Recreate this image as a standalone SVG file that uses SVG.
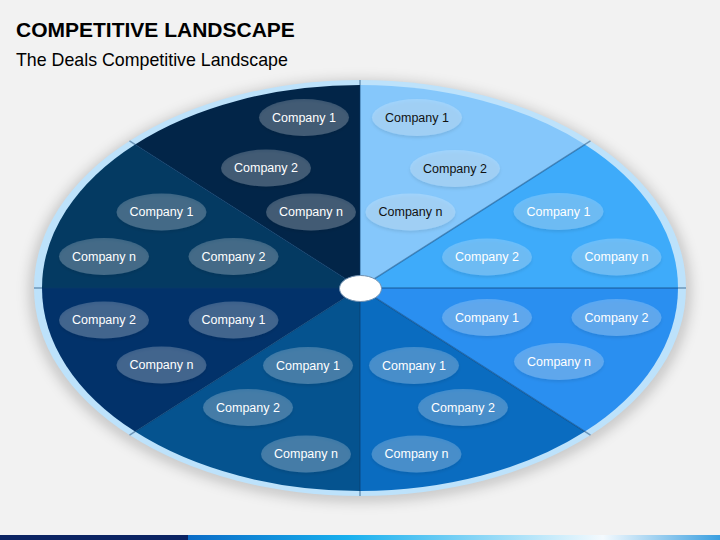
<svg xmlns="http://www.w3.org/2000/svg" width="720" height="540" viewBox="0 0 720 540">
<defs>
<style>
.t{font-family:"Liberation Sans",Arial,sans-serif;font-size:12.5px;fill:#fff;text-anchor:middle;}
.dk{fill:#111;}
.ov{fill:#fff;fill-opacity:0.22;filter:url(#ds);}
.div{stroke:#0B3A68;stroke-opacity:0.45;stroke-width:1.5;fill:none;}
</style>
<filter id="ds" x="-20%" y="-30%" width="140%" height="170%">
<feDropShadow dx="0" dy="2" stdDeviation="1.8" flood-color="#000" flood-opacity="0.4"/>
</filter>
<filter id="glow" x="-10%" y="-10%" width="120%" height="120%">
<feGaussianBlur stdDeviation="6"/>
</filter>
<linearGradient id="bar" x1="0" y1="0" x2="1" y2="0">
<stop offset="0" stop-color="#0A6BC6"/>
<stop offset="0.3" stop-color="#18B0EE"/>
<stop offset="0.78" stop-color="#F4FAFE"/>
<stop offset="1" stop-color="#3A9FE0"/>
</linearGradient>
</defs>
<rect width="720" height="540" fill="#F2F2F2"/>
<text x="16" y="37" font-family="'Liberation Sans',Arial,sans-serif" font-size="21" font-weight="bold" fill="#000">COMPETITIVE LANDSCAPE</text>
<text x="16" y="66" font-family="'Liberation Sans',Arial,sans-serif" font-size="17.8" fill="#000">The Deals Competitive Landscape</text>
<ellipse cx="360" cy="291" rx="332" ry="212" fill="#000" fill-opacity="0.16" filter="url(#glow)"/>
<g id="pie">
<ellipse cx="360" cy="288" rx="326" ry="208" fill="#BDE2FB"/>
<path d="M360,288 L360,85 A318,203 0 0 1 584.9,144.4 Z" fill="#85C7FB"/>
<path d="M360,288 L584.9,144.4 A318,203 0 0 1 678,288 Z" fill="#3EABFA"/>
<path d="M360,288 L678,288 A318,203 0 0 1 584.9,431.6 Z" fill="#2A8FF0"/>
<path d="M360,288 L584.9,431.6 A318,203 0 0 1 360,491 Z" fill="#0A6CC0"/>
<path d="M360,288 L360,491 A318,203 0 0 1 135.1,431.6 Z" fill="#05538F"/>
<path d="M360,288 L135.1,431.6 A318,203 0 0 1 42,288 Z" fill="#02326A"/>
<path d="M360,288 L42,288 A318,203 0 0 1 135.1,144.4 Z" fill="#043A62"/>
<path d="M360,288 L135.1,144.4 A318,203 0 0 1 360,85 Z" fill="#022548"/>
</g>
<g id="connectors">
<line class="div" x1="360" y1="80" x2="360" y2="496"/>
<line class="div" x1="34" y1="288" x2="686" y2="288"/>
<line class="div" x1="129.5" y1="140.9" x2="590.5" y2="435.1"/>
<line class="div" x1="129.5" y1="435.1" x2="590.5" y2="140.9"/>
</g>
<g id="center"><ellipse cx="360.5" cy="288.5" rx="21" ry="13" fill="#fff" stroke="#7090B0" stroke-width="1"/></g>
<g id="s-top-left">
<g id="tl1"><ellipse class="ov" cx="304" cy="117.5" rx="45" ry="18.5"/><text class="t" x="304" y="121.9">Company 1</text></g>
<g id="tl2"><ellipse class="ov" cx="266" cy="168" rx="45" ry="18.5"/><text class="t" x="266" y="172.4">Company 2</text></g>
<g id="tln"><ellipse class="ov" cx="311" cy="212" rx="45" ry="18.5"/><text class="t" x="311" y="216.4">Company n</text></g>
</g>
<g id="s-left-upper">
<g id="lu1"><ellipse class="ov" cx="161.5" cy="212" rx="45" ry="18.5"/><text class="t" x="161.5" y="216.4">Company 1</text></g>
<g id="lun"><ellipse class="ov" cx="104" cy="256.5" rx="45" ry="18.5"/><text class="t" x="104" y="260.9">Company n</text></g>
<g id="lu2"><ellipse class="ov" cx="233.5" cy="256.5" rx="45" ry="18.5"/><text class="t" x="233.5" y="260.9">Company 2</text></g>
</g>
<g id="s-left-lower">
<g id="ll2"><ellipse class="ov" cx="104" cy="320" rx="45" ry="18.5"/><text class="t" x="104" y="324.4">Company 2</text></g>
<g id="ll1"><ellipse class="ov" cx="233.5" cy="320" rx="45" ry="18.5"/><text class="t" x="233.5" y="324.4">Company 1</text></g>
<g id="lln"><ellipse class="ov" cx="161.5" cy="365" rx="45" ry="18.5"/><text class="t" x="161.5" y="369.4">Company n</text></g>
</g>
<g id="s-bottom-left">
<g id="bl1"><ellipse class="ov" cx="308" cy="365.5" rx="45" ry="18.5"/><text class="t" x="308" y="369.9">Company 1</text></g>
<g id="bl2"><ellipse class="ov" cx="248" cy="407.5" rx="45" ry="18.5"/><text class="t" x="248" y="411.9">Company 2</text></g>
<g id="bln"><ellipse class="ov" cx="306" cy="454" rx="45" ry="18.5"/><text class="t" x="306" y="458.4">Company n</text></g>
</g>
<g id="s-bottom-right">
<g id="br1"><ellipse class="ov" cx="414" cy="365.5" rx="45" ry="18.5"/><text class="t" x="414" y="369.9">Company 1</text></g>
<g id="br2"><ellipse class="ov" cx="463" cy="407.5" rx="45" ry="18.5"/><text class="t" x="463" y="411.9">Company 2</text></g>
<g id="brn"><ellipse class="ov" cx="416.5" cy="454" rx="45" ry="18.5"/><text class="t" x="416.5" y="458.4">Company n</text></g>
</g>
<g id="s-right-lower">
<g id="rl1"><ellipse class="ov" cx="487" cy="317.5" rx="45" ry="18.5"/><text class="t" x="487" y="321.9">Company 1</text></g>
<g id="rl2"><ellipse class="ov" cx="616.5" cy="317.5" rx="45" ry="18.5"/><text class="t" x="616.5" y="321.9">Company 2</text></g>
<g id="rln"><ellipse class="ov" cx="559" cy="361.5" rx="45" ry="18.5"/><text class="t" x="559" y="365.9">Company n</text></g>
</g>
<g id="s-right-upper">
<g id="ru1"><ellipse class="ov" cx="558.5" cy="211.5" rx="45" ry="18.5"/><text class="t" x="558.5" y="215.9">Company 1</text></g>
<g id="ru2"><ellipse class="ov" cx="487" cy="257" rx="45" ry="18.5"/><text class="t" x="487" y="261.4">Company 2</text></g>
<g id="run"><ellipse class="ov" cx="616.5" cy="257" rx="45" ry="18.5"/><text class="t" x="616.5" y="261.4">Company n</text></g>
</g>
<g id="s-top-right">
<g id="tr1"><ellipse class="ov" cx="417" cy="117.5" rx="45" ry="18.5"/><text class="t dk" x="417" y="121.9">Company 1</text></g>
<g id="tr2"><ellipse class="ov" cx="455" cy="168.5" rx="45" ry="18.5"/><text class="t dk" x="455" y="172.9">Company 2</text></g>
<g id="trn"><ellipse class="ov" cx="410.5" cy="212" rx="45" ry="18.5"/><text class="t dk" x="410.5" y="216.4">Company n</text></g>
</g>
<g id="bottom-bar">
<rect x="0" y="535" width="190" height="5" fill="#0B2362"/>
<rect x="188" y="535" width="532" height="5" fill="url(#bar)"/>
</g>
</svg>
